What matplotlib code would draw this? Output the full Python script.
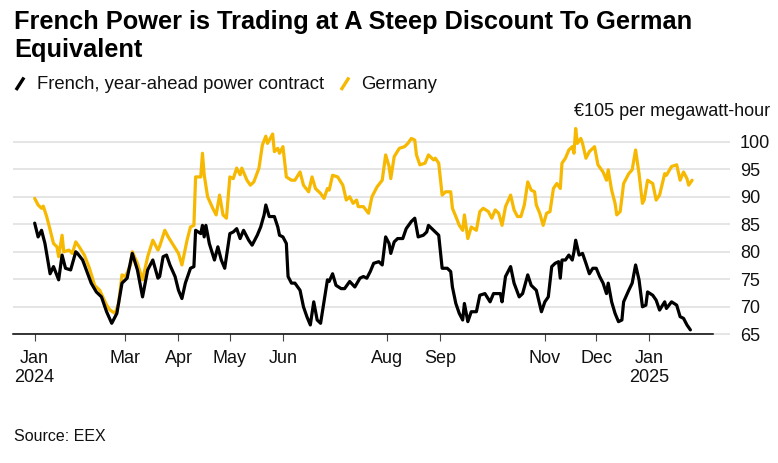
import matplotlib
matplotlib.use("Agg")
import matplotlib.pyplot as plt
import pandas as pd
from matplotlib.lines import Line2D

# ---------------- data ----------------
fr_dates = [
    "2024-01-08", "2024-01-10", "2024-01-12", "2024-01-14", "2024-01-17", "2024-01-19", "2024-01-22",
    "2024-01-24", "2024-01-26", "2024-01-29", "2024-02-01", "2024-02-02", "2024-02-05", "2024-02-08",
    "2024-02-10", "2024-02-13", "2024-02-16", "2024-02-19", "2024-02-22", "2024-02-25", "2024-02-28",
    "2024-03-02", "2024-03-05", "2024-03-08", "2024-03-11", "2024-03-14", "2024-03-17", "2024-03-20",
    "2024-03-21", "2024-03-23", "2024-03-25", "2024-03-27", "2024-03-30", "2024-04-01", "2024-04-03",
    "2024-04-05", "2024-04-08", "2024-04-10", "2024-04-11", "2024-04-14", "2024-04-15", "2024-04-16",
    "2024-04-17", "2024-04-19", "2024-04-22", "2024-04-24", "2024-04-26", "2024-04-28", "2024-05-01",
    "2024-05-03", "2024-05-05", "2024-05-07", "2024-05-09", "2024-05-12", "2024-05-14", "2024-05-17",
    "2024-05-19", "2024-05-21", "2024-05-22", "2024-05-24", "2024-05-27", "2024-05-29", "2024-05-30",
    "2024-06-01", "2024-06-03", "2024-06-04", "2024-06-06", "2024-06-08", "2024-06-11", "2024-06-13",
    "2024-06-15", "2024-06-17", "2024-06-19", "2024-06-21", "2024-06-23", "2024-06-25", "2024-06-27",
    "2024-06-28", "2024-06-30", "2024-07-02", "2024-07-05", "2024-07-07", "2024-07-10", "2024-07-13",
    "2024-07-16", "2024-07-18", "2024-07-20", "2024-07-22", "2024-07-24", "2024-07-27", "2024-07-29",
    "2024-07-31", "2024-08-02", "2024-08-03", "2024-08-05", "2024-08-07", "2024-08-10", "2024-08-12",
    "2024-08-15", "2024-08-17", "2024-08-19", "2024-08-22", "2024-08-24", "2024-08-25", "2024-08-28",
    "2024-08-31", "2024-09-02", "2024-09-05", "2024-09-07", "2024-09-08", "2024-09-10", "2024-09-12",
    "2024-09-14", "2024-09-15", "2024-09-17", "2024-09-19", "2024-09-22", "2024-09-24", "2024-09-27",
    "2024-09-30", "2024-10-02", "2024-10-06", "2024-10-07", "2024-10-09", "2024-10-12", "2024-10-14",
    "2024-10-17", "2024-10-19", "2024-10-22", "2024-10-24", "2024-10-27", "2024-10-30", "2024-11-01",
    "2024-11-03", "2024-11-05", "2024-11-07", "2024-11-09", "2024-11-10", "2024-11-11", "2024-11-13",
    "2024-11-15", "2024-11-17", "2024-11-18", "2024-11-19", "2024-11-21", "2024-11-23", "2024-11-25",
    "2024-11-27", "2024-11-29", "2024-12-01", "2024-12-03", "2024-12-05", "2024-12-07", "2024-12-08",
    "2024-12-10", "2024-12-12", "2024-12-14", "2024-12-16", "2024-12-17", "2024-12-20", "2024-12-22",
    "2024-12-24", "2024-12-26", "2024-12-28", "2024-12-30", "2024-12-31", "2025-01-03", "2025-01-05",
    "2025-01-07", "2025-01-10", "2025-01-11", "2025-01-14", "2025-01-17", "2025-01-19", "2025-01-21",
    "2025-01-23", "2025-01-25",
]
fr_values = [
    85.2, 82.7, 83.9, 81.5, 76.0, 77.3, 74.9,
    79.4, 77.0, 76.7, 80.0, 79.7, 78.5, 76.0,
    74.3, 72.7, 71.8, 69.1, 67.0, 68.8, 74.3,
    75.2, 79.7, 76.7, 71.8, 76.7, 78.5, 75.2,
    75.5, 79.1, 79.4, 77.6, 75.5, 73.0, 71.5,
    74.3, 77.0, 77.3, 83.9, 83.3, 84.8, 82.7,
    84.8, 81.5, 78.5, 80.9, 78.5, 77.0, 83.3,
    83.6, 84.2, 82.4, 83.9, 82.1, 81.2, 83.0,
    84.5, 86.7, 88.5, 86.4, 86.4, 84.5, 83.0,
    82.7, 81.5, 75.5, 74.3, 74.3, 73.0, 70.0,
    68.2, 66.7, 70.9, 67.6, 67.0, 70.9, 74.9,
    74.6, 76.0, 73.9, 73.3, 73.3, 74.6, 73.6,
    75.2, 75.5, 75.2, 76.4, 77.9, 78.2, 77.6,
    82.7, 81.5, 79.7, 81.8, 82.4, 82.4, 84.2,
    85.5, 86.1, 82.7, 83.0, 83.6, 84.8, 83.9,
    83.0, 77.0, 77.0, 76.4, 73.6, 70.6, 68.8,
    67.6, 70.6, 67.3, 69.1, 69.1, 72.1, 72.4,
    70.9, 72.4, 72.4, 70.9, 75.5, 77.3, 74.3,
    71.8, 72.4, 75.8, 73.9, 73.0, 69.1, 70.9,
    71.8, 77.3, 77.9, 78.2, 75.2, 78.5, 78.5,
    79.4, 78.5, 80.0, 82.1, 79.4, 79.7, 77.9,
    76.0, 77.0, 77.0, 75.5, 74.3, 72.4, 74.3,
    70.9, 68.8, 67.3, 67.6, 70.9, 73.0, 74.3,
    77.6, 74.9, 70.0, 70.3, 72.7, 72.1, 71.2,
    69.4, 70.9, 69.7, 70.9, 70.3, 68.2, 67.9,
    66.7, 65.8,
]

de_dates = [
    "2024-01-08", "2024-01-10", "2024-01-12", "2024-01-13", "2024-01-15", "2024-01-17", "2024-01-19",
    "2024-01-21", "2024-01-22", "2024-01-24", "2024-01-25", "2024-01-28", "2024-01-30", "2024-02-01",
    "2024-02-03", "2024-02-06", "2024-02-09", "2024-02-12", "2024-02-15", "2024-02-19", "2024-02-21",
    "2024-02-24", "2024-02-26", "2024-02-28", "2024-03-01", "2024-03-04", "2024-03-05", "2024-03-08",
    "2024-03-11", "2024-03-14", "2024-03-17", "2024-03-20", "2024-03-21", "2024-03-24", "2024-03-26",
    "2024-03-29", "2024-04-01", "2024-04-03", "2024-04-06", "2024-04-08", "2024-04-10", "2024-04-11",
    "2024-04-14", "2024-04-15", "2024-04-16", "2024-04-18", "2024-04-21", "2024-04-23", "2024-04-25",
    "2024-04-27", "2024-04-29", "2024-05-01", "2024-05-03", "2024-05-05", "2024-05-07", "2024-05-08",
    "2024-05-11", "2024-05-13", "2024-05-15", "2024-05-18", "2024-05-20", "2024-05-22", "2024-05-23",
    "2024-05-26", "2024-05-27", "2024-05-29", "2024-05-30", "2024-06-01", "2024-06-03", "2024-06-06",
    "2024-06-08", "2024-06-11", "2024-06-13", "2024-06-16", "2024-06-18", "2024-06-20", "2024-06-23",
    "2024-06-25", "2024-06-27", "2024-06-28", "2024-06-30", "2024-07-03", "2024-07-06", "2024-07-08",
    "2024-07-10", "2024-07-12", "2024-07-14", "2024-07-15", "2024-07-18", "2024-07-21", "2024-07-23",
    "2024-07-26", "2024-07-29", "2024-07-31", "2024-08-02", "2024-08-03", "2024-08-05", "2024-08-08",
    "2024-08-11", "2024-08-13", "2024-08-15", "2024-08-17", "2024-08-18", "2024-08-20", "2024-08-23",
    "2024-08-25", "2024-08-28", "2024-08-29", "2024-08-31", "2024-09-02", "2024-09-04", "2024-09-07",
    "2024-09-08", "2024-09-10", "2024-09-12", "2024-09-14", "2024-09-15", "2024-09-17", "2024-09-19",
    "2024-09-22", "2024-09-24", "2024-09-26", "2024-09-29", "2024-10-01", "2024-10-03", "2024-10-05",
    "2024-10-07", "2024-10-09", "2024-10-12", "2024-10-14", "2024-10-16", "2024-10-18", "2024-10-20",
    "2024-10-22", "2024-10-24", "2024-10-26", "2024-10-27", "2024-10-29", "2024-10-31", "2024-11-02",
    "2024-11-04", "2024-11-06", "2024-11-08", "2024-11-10", "2024-11-11", "2024-11-13", "2024-11-15",
    "2024-11-17", "2024-11-18", "2024-11-19", "2024-11-20", "2024-11-22", "2024-11-23", "2024-11-25",
    "2024-11-27", "2024-11-30", "2024-12-02", "2024-12-05", "2024-12-07", "2024-12-08", "2024-12-10",
    "2024-12-12", "2024-12-13", "2024-12-15", "2024-12-17", "2024-12-20", "2024-12-22", "2024-12-24",
    "2024-12-26", "2024-12-28", "2024-12-29", "2024-12-31", "2025-01-03", "2025-01-05", "2025-01-07",
    "2025-01-10", "2025-01-11", "2025-01-14", "2025-01-17", "2025-01-19", "2025-01-21", "2025-01-23",
    "2025-01-24", "2025-01-26",
]
de_values = [
    89.7, 88.5, 87.9, 88.3, 86.4, 84.0, 81.5,
    80.9, 79.1, 83.0, 80.0, 80.3, 79.7, 81.8,
    80.9, 79.4, 77.0, 73.9, 73.0, 70.3, 69.4,
    68.8, 70.6, 75.8, 75.5, 77.6, 80.0, 77.9,
    74.9, 79.1, 82.1, 80.3, 81.0, 83.9, 82.7,
    81.2, 79.7, 77.6, 82.1, 84.5, 84.8, 93.6,
    93.6, 97.9, 94.0, 90.0, 87.9, 86.7, 90.3,
    86.7, 86.1, 93.6, 93.3, 95.2, 94.0, 95.2,
    93.0, 92.1, 92.7, 95.2, 99.4, 101.0, 99.7,
    101.4, 98.2, 98.8, 97.9, 99.1, 93.6, 93.0,
    93.0, 94.5, 92.1, 90.9, 93.6, 91.5, 90.6,
    89.7, 91.5, 91.2, 93.9, 93.6, 92.1, 89.4,
    90.0, 88.8, 89.4, 88.2, 88.2, 87.0, 90.0,
    91.8, 93.0, 97.6, 95.5, 93.3, 97.3, 98.8,
    99.1, 99.7, 100.6, 100.3, 97.6, 95.8, 96.1,
    97.6, 96.7, 97.0, 96.1, 90.3, 90.9, 90.9,
    87.9, 86.4, 84.8, 83.9, 86.7, 82.4, 84.5,
    83.9, 87.3, 87.9, 87.3, 86.1, 87.6, 87.0,
    84.8, 88.2, 90.3, 87.6, 86.4, 86.4, 88.5,
    92.7, 91.2, 90.9, 88.5, 87.0, 84.8, 87.0,
    87.3, 91.5, 92.4, 91.5, 96.1, 97.0, 98.5,
    99.1, 97.9, 102.4, 99.7, 100.6, 99.7, 97.0,
    98.2, 99.1, 95.8, 94.5, 93.0, 94.9, 91.2,
    88.8, 86.7, 87.3, 92.4, 94.2, 94.9, 98.5,
    94.2, 88.8, 89.4, 93.0, 92.4, 89.4, 90.3,
    94.2, 93.9, 95.5, 95.8, 93.0, 94.5, 93.3,
    92.1, 93.0,
]

series_names = ["French, year-ahead power contract", "Germany"]
x_tick_dates = ["2024-01-08", "2024-03-01", "2024-04-01", "2024-05-01", "2024-06-01",
                "2024-08-01", "2024-09-01", "2024-11-01", "2024-12-01", "2025-01-01"]
x_tick_labels = ["Jan\n2024", "Mar", "Apr", "May", "Jun", "Aug", "Sep", "Nov", "Dec", "Jan\n2025"]
y_ticks = [65, 70, 75, 80, 85, 90, 95, 100]
y_unit_label = "€105 per megawatt-hour"
title_lines = ["French Power is Trading at A Steep Discount To German", "Equivalent"]
source_text = "Source: EEX"

# ---------------- style ----------------
W, H = 778, 463
BLACK = "#000000"
YELLOW = "#F6B800"
GRID = "#DEDEDE"
plt.rcParams["font.family"] = ["Liberation Sans", "DejaVu Sans"]

fig = plt.figure(figsize=(W / 100, H / 100), dpi=100)
fig.patch.set_facecolor("white")


def fx(px):
    return px / W


def fy(py):
    return 1 - py / H


renderer = fig.canvas.get_renderer()


def fit(t, target_px):
    w = t.get_window_extent(renderer=renderer).width
    t.set_fontsize(t.get_fontsize() * target_px / w)


# axes
ax = fig.add_axes([fx(13), fy(334.3), fx(713 - 13), (334.3 - 114.2) / H])
ax.plot(pd.to_datetime(de_dates), de_values, color=YELLOW, lw=2.3,
        solid_joinstyle="round", solid_capstyle="round", zorder=3)
ax.plot(pd.to_datetime(fr_dates), fr_values, color=BLACK, lw=2.3,
        solid_joinstyle="round", solid_capstyle="round", zorder=4)

ax.set_xlim(pd.Timestamp("2023-12-26 08:00"), pd.Timestamp("2025-02-07 05:00"))
ax.set_ylim(65, 105)
ax.set_yticks(y_ticks)
ax.set_yticklabels([str(v) for v in y_ticks])
ax.yaxis.tick_right()
ax.tick_params(axis="y", length=12.2, width=1.1, color=GRID, pad=7.2,
               labelsize=13, labelcolor="#111111")
ax.grid(axis="y", color=GRID, lw=1.1)
ax.set_axisbelow(True)

ax.set_xticks(pd.to_datetime(x_tick_dates))
ax.set_xticklabels(x_tick_labels)
ax.tick_params(axis="x", length=5, width=0.8, color="#444444", pad=6.0,
               labelsize=13, labelcolor="#111111")

for s in ["top", "left", "right"]:
    ax.spines[s].set_visible(False)
ax.spines["bottom"].set_color(BLACK)
ax.spines["bottom"].set_linewidth(1.1)
ax.spines["bottom"].set_zorder(5)

# unit label at top right
fig.text(fx(770), fy(112), y_unit_label, ha="right", va="center", fontsize=13, color="#111111")

# title
t1 = fig.text(fx(14), fy(28.5), title_lines[0], ha="left", va="baseline",
              fontsize=16, fontweight="bold", color="#000000")
fit(t1, 679)
fig.text(fx(14), fy(57.3), title_lines[1], ha="left", va="baseline",
         fontsize=t1.get_fontsize(), fontweight="bold", color="#000000")

# legend
l1 = fig.text(fx(37), fy(89.3), series_names[0], ha="left", va="baseline", fontsize=13, color="#111111")
fit(l1, 287)
fig.text(fx(361), fy(89.3), series_names[1], ha="left", va="baseline",
         fontsize=l1.get_fontsize(), color="#111111")
fig.add_artist(Line2D([fx(16), fx(24)], [fy(90), fy(77.5)], color=BLACK, lw=2.4,
                      transform=fig.transFigure, solid_capstyle="butt"))
fig.add_artist(Line2D([fx(341), fx(349)], [fy(90), fy(77.5)], color=YELLOW, lw=2.4,
                      transform=fig.transFigure, solid_capstyle="butt"))

# source
s1 = fig.text(fx(14), fy(441), source_text, ha="left", va="baseline", fontsize=11.5, color="#111111")
fit(s1, 92)

fig.savefig("out.png", dpi=100, facecolor="white")
